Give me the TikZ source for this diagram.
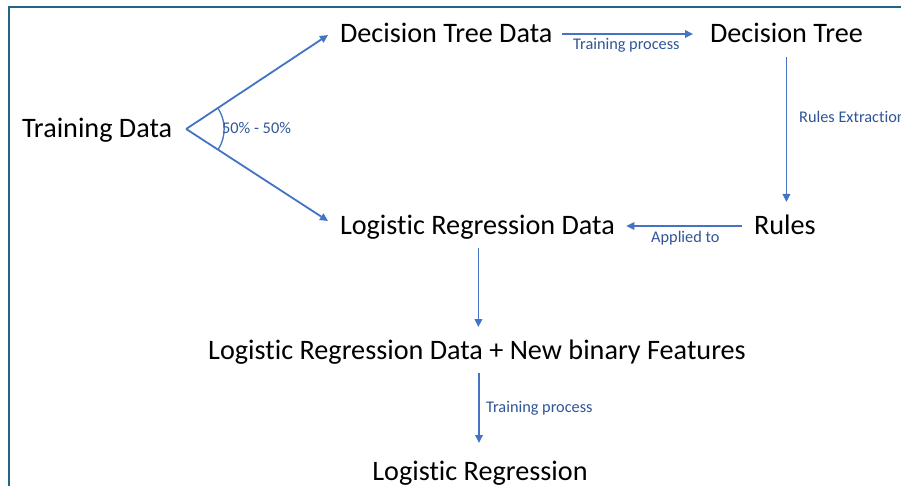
\documentclass[tikz,border=0pt]{standalone}
\usepackage{fontspec}
\setmainfont{Carlito}[Ligatures={NoCommon}]
\usetikzlibrary{arrows.meta}
\definecolor{arrowblue}{HTML}{4472C4}
\definecolor{labelblue}{HTML}{2F5597}
\definecolor{framecol}{HTML}{1F6788}
\tikzset{
  mainbox/.style={font=\fontsize{28.2}{30}\selectfont, text=black, inner sep=0pt, outer sep=0pt, text height=18pt, text depth=6pt},
  lbl/.style={font=\fontsize{16.3}{18}\selectfont, text=labelblue, inner sep=0pt, anchor=base west},
  arr/.style={draw=arrowblue, line width=1.8pt, -{Triangle[length=8pt,width=7.5pt]}},
}
\begin{document}
\begin{tikzpicture}[x=1pt,y=-1pt]
\useasboundingbox (0,0) rectangle (901,486);
\clip (0,0) rectangle (901,486);
\fill[white] (0,0) rectangle (901,486);
\draw[framecol, line width=2pt] (8.5,7) rectangle (930,520);

% main nodes
\node[mainbox, anchor=base west] (td)  at (22,138)  {Training Data};
\node[mainbox, anchor=base west] (dtd) at (340,43)  {Decision Tree Data};
\node[mainbox, anchor=base west] (dt)  at (710,43)  {Decision Tree};
\node[mainbox, anchor=base west] (rules) at (754,234) {Rules};
\node[mainbox, anchor=base west] (lrd) at (340,235) {Logistic Regression Data};
\node[mainbox, anchor=base] (lrf) at (477,359) {Logistic Regression Data + New binary Features};
\node[mainbox, anchor=base] (lr)  at (480,480) {Logistic Regression};

% split
\coordinate (split) at ([shift={(14,-3)}]td.east);
\draw[arr] (split) -- ([shift={(-12,-2)}]dtd.west);
\draw[arr] (split) -- ([shift={(-12,-8)}]lrd.west);
\draw[arrowblue, line width=1.3pt] ([shift={(31.75,-20.86)}]split) arc[start angle=33.3, end angle=-33.3, radius=38pt];

% other connectors
\draw[arr] ([shift={(10,-3)}]dtd.east) -- ([shift={(-17,-3)}]dt.west);
\coordinate (c1) at ([shift={(0,8)}]dt.south);
\draw[arr] (c1) -- ([yshift=14pt]c1 |- rules.north);
\draw[arr] ([shift={(-12,-2)}]rules.west) -- ([shift={(11.5,-3)}]lrd.east);
\coordinate (c2) at ([shift={(1,7)}]lrd.south);
\draw[arr] (c2) -- ([yshift=14pt]c2 |- lrf.north);
\coordinate (c3) at ([shift={(2,8)}]lrf.south);
\draw[arr] (c3) -- ([yshift=19pt]c3 |- lr.north);

% labels
\node[lbl] (l1) at (222,134) {50\% - 50\%};
\node[lbl] (l2) at (573,50) {Training process};
\node[lbl] (l3) at (799,123) {Rules Extraction};
\node[lbl] (l4) at (651,243) {Applied to};
\node[lbl] (l5) at (486,412) {Training process};
\end{tikzpicture}
\end{document}
